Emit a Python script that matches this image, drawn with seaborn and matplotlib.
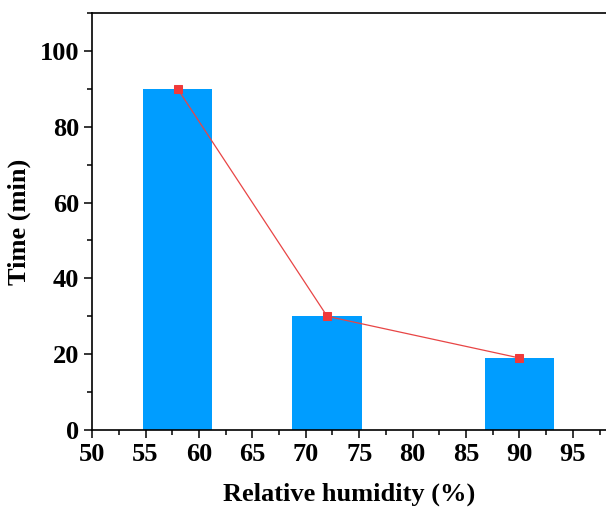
import matplotlib.pyplot as plt
import numpy as np
import pandas as pd
import seaborn as sns
from matplotlib.ticker import MultipleLocator

humidity = [58, 72, 90]
time_min = [90, 30, 19]

BAR_COLOR = "#009DFF"
LINE_COLOR = "#E84545"


def main():
    sns.set_theme(style="ticks")
    plt.rcParams["font.family"] = ["Liberation Serif", "DejaVu Serif"]
    plt.rcParams["font.weight"] = "bold"
    plt.rcParams["text.color"] = "black"
    plt.rcParams["axes.labelcolor"] = "black"

    df = pd.DataFrame({"humidity": humidity, "time": time_min})

    fig = plt.figure(figsize=(6.06, 5.11), dpi=100)
    ax = fig.add_axes([0.152, 0.1585, 0.848, 0.816])

    sns.barplot(data=df, x="humidity", y="time", native_scale=True,
                width=6.5 / 14, color=BAR_COLOR, saturation=1,
                edgecolor="none", ax=ax)
    sns.lineplot(data=df, x="humidity", y="time", color=LINE_COLOR,
                 linewidth=0.9, marker="s", markersize=6,
                 markeredgecolor="#F03A3A", markerfacecolor="#F03A3A", ax=ax)

    ax.set_xlim(50, 98.1)
    ax.set_ylim(0, 110)
    ax.xaxis.set_major_locator(MultipleLocator(5))
    ax.xaxis.set_minor_locator(MultipleLocator(2.5))
    ax.yaxis.set_major_locator(MultipleLocator(20))
    ax.yaxis.set_minor_locator(MultipleLocator(10))

    ax.set_xlabel("Relative humidity (%)", fontsize=19, fontweight="bold",
                  labelpad=12, color="black")
    ax.set_ylabel("Time (min)", fontsize=19, fontweight="bold",
                  labelpad=6, color="black")
    ax.tick_params(axis="both", which="major", direction="out", length=6,
                   width=1.1, labelsize=19, colors="black")
    ax.tick_params(axis="both", which="minor", direction="out", length=3.5,
                   width=1.1, colors="black")
    for lab in ax.get_xticklabels() + ax.get_yticklabels():
        lab.set_fontweight("bold")

    for side in ["left", "bottom", "top"]:
        ax.spines[side].set_visible(True)
        ax.spines[side].set_linewidth(1.2)
        ax.spines[side].set_color("black")
    ax.spines["right"].set_visible(False)

    fig.savefig("out.png", dpi=100)
    plt.close(fig)


if __name__ == "__main__":
    main()
